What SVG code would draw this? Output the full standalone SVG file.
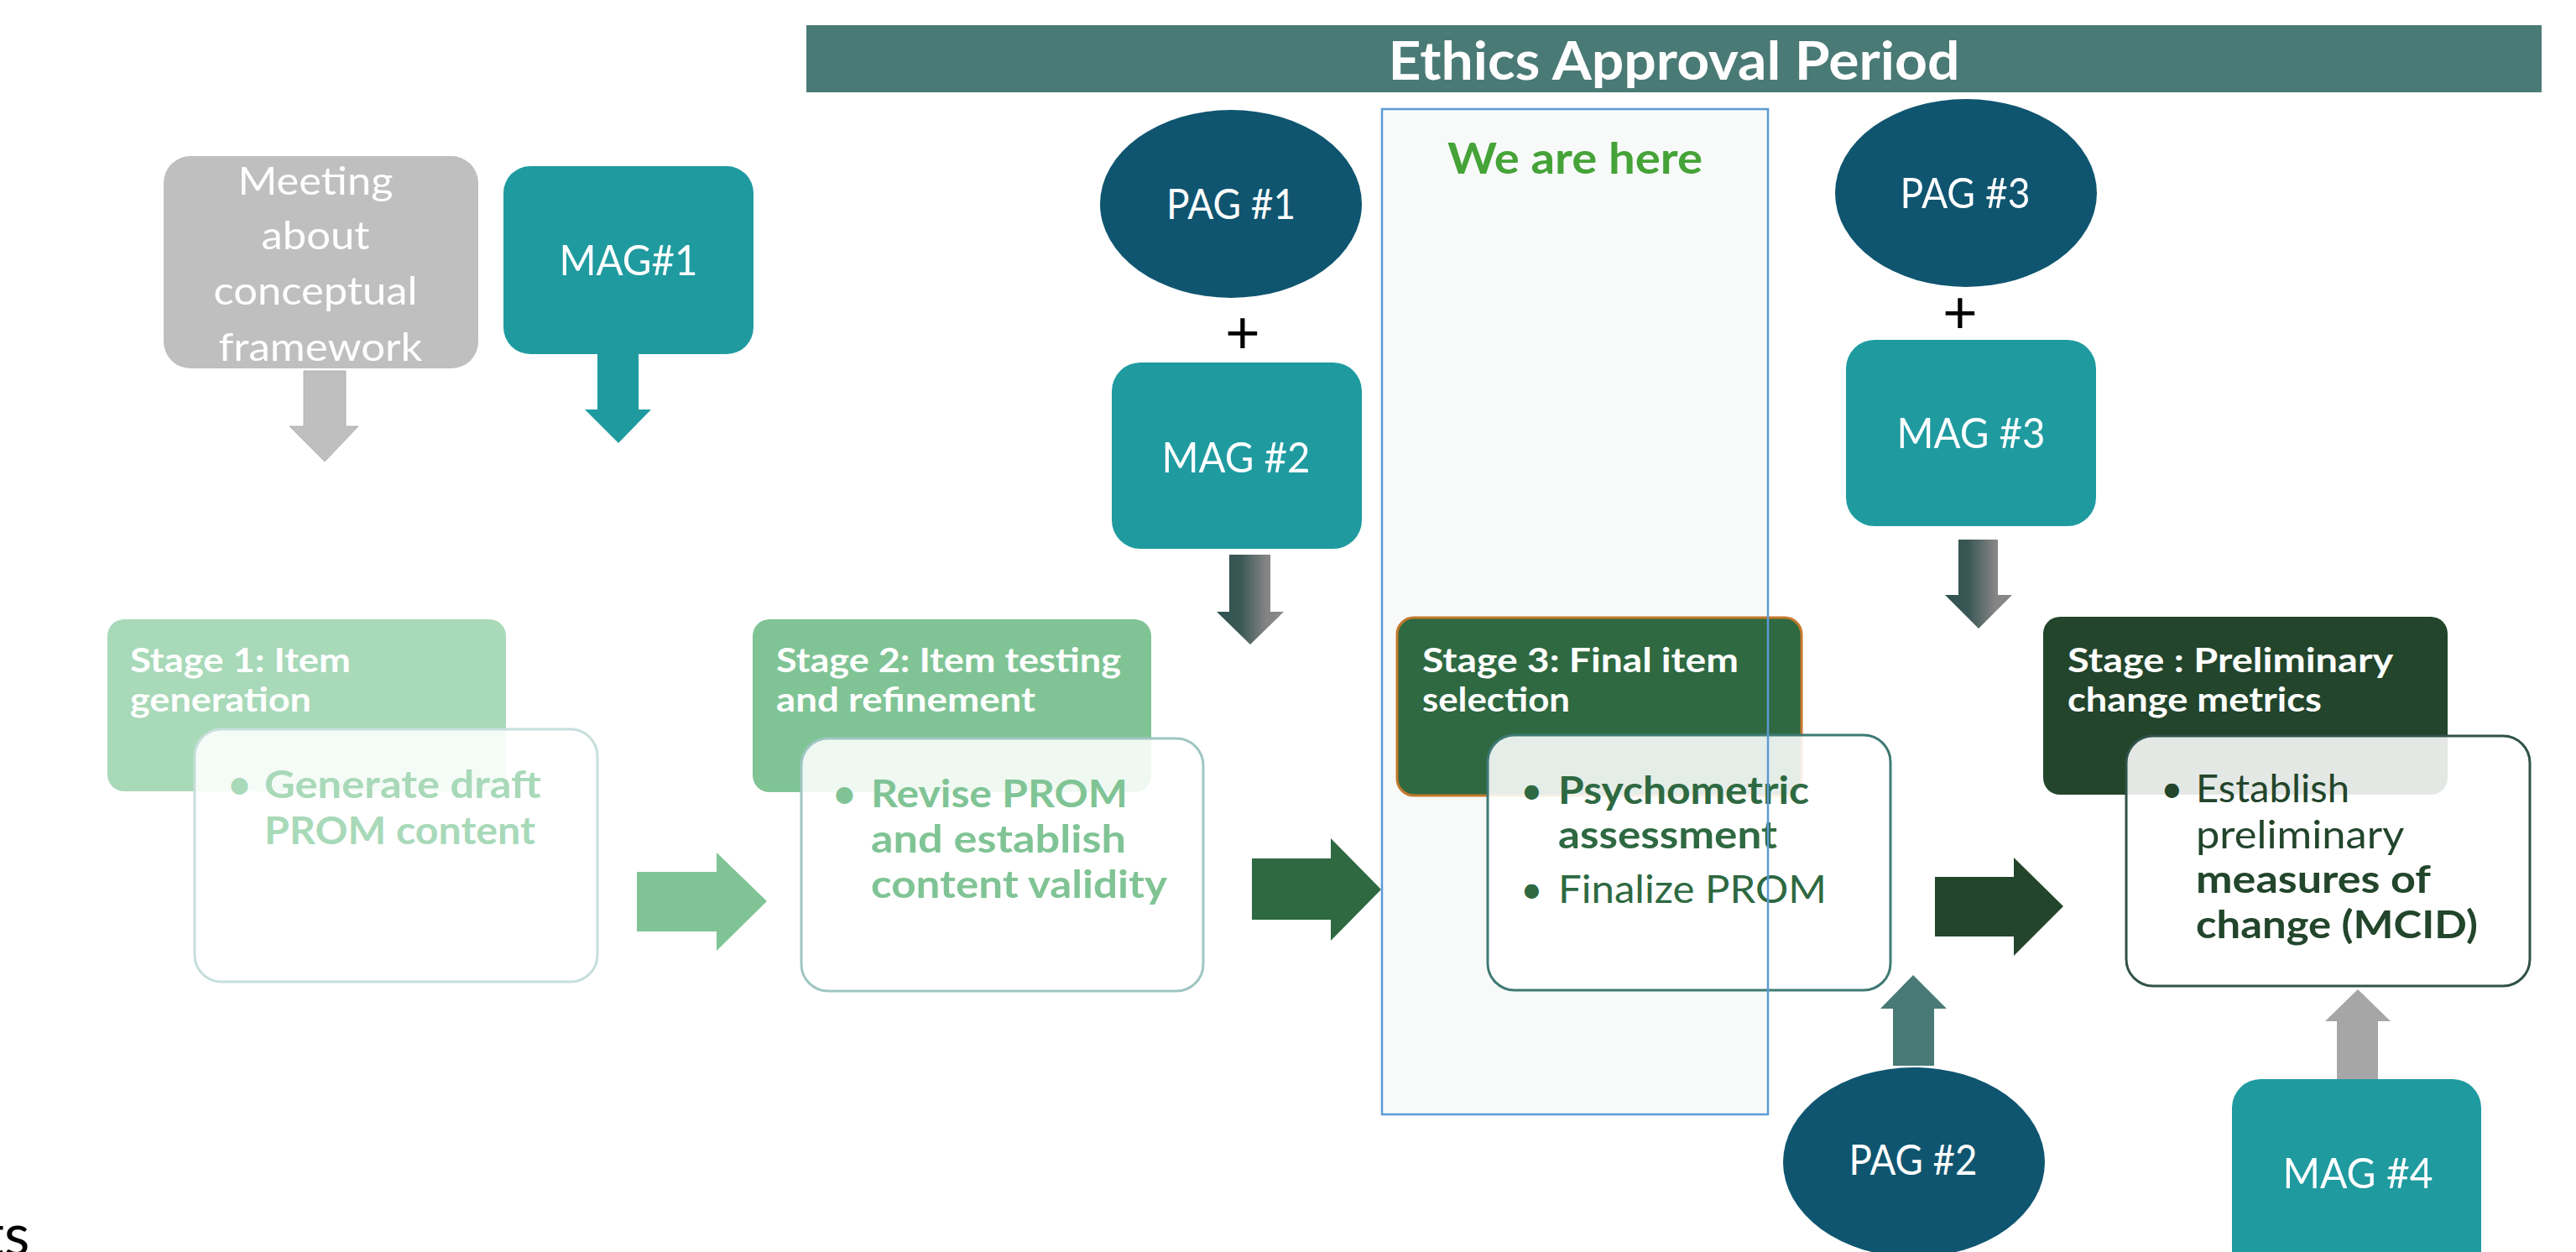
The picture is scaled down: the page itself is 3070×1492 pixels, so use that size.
<svg xmlns="http://www.w3.org/2000/svg" width="3070" height="1492" viewBox="0 0 3070 1492">
  <defs>
    <linearGradient id="slateGrad" x1="0" y1="0" x2="1" y2="0">
      <stop offset="0" stop-color="#2E514F"/>
      <stop offset="0.35" stop-color="#3A5856"/>
      <stop offset="0.75" stop-color="#858585"/>
      <stop offset="1" stop-color="#888888"/>
    </linearGradient>
  </defs>
  <style>
    .cal { font-family: Lato, "Open Sans", "Liberation Sans", sans-serif; fill: #ffffff; }
    .head { font-family: Lato, "Liberation Sans", sans-serif; font-weight: 700; font-size: 40px; fill: #ffffff; }
    .body { font-family: Lato, "Liberation Sans", sans-serif; font-size: 46px; }
    .b { font-weight: 700; }
    .card { fill: #ffffff; fill-opacity: 0.88; stroke-width: 3; }
    .mag { fill: #1F9BA0; }
    .pag { fill: #0F5570; }
  </style>

  <rect width="3070" height="1492" fill="#ffffff"/>

  <!-- highlight column (fill only; outline drawn last) -->
  <g id="we-are-here">
    <rect x="1647" y="130" width="460" height="1198" fill="#F8FAFA"/>
    <text x="1877" y="207" text-anchor="middle" textLength="304" lengthAdjust="spacingAndGlyphs" style="font-family: Lato, 'Liberation Sans', sans-serif; font-weight: 700; font-size: 52px; fill: #45A338;">We are here</text>
  </g>

  <!-- banner -->
  <g id="ethics-approval">
    <rect x="961" y="30" width="2068" height="80" fill="#4A7A75"/>
    <text x="1995" y="95" text-anchor="middle" textLength="681" lengthAdjust="spacingAndGlyphs" class="cal" style="font-weight: 700; font-size: 64px;">Ethics Approval Period</text>
  </g>

  <!-- advisory meetings -->
  <g id="meeting">
    <rect x="195" y="186" width="375" height="253" rx="32" fill="#BFBFBF"/>
    <text class="cal" text-anchor="middle" style="font-size: 47px;">
      <tspan x="382" y="232" textLength="185" lengthAdjust="spacingAndGlyphs">Meeting</tspan>
      <tspan x="382" y="297" textLength="129" lengthAdjust="spacingAndGlyphs">about</tspan>
      <tspan x="382" y="363" textLength="243" lengthAdjust="spacingAndGlyphs">conceptual</tspan>
      <tspan x="382" y="430" textLength="243" lengthAdjust="spacingAndGlyphs">framework</tspan>
    </text>
  </g>

  <g id="mag1">
    <rect class="mag" x="600" y="198" width="298" height="224" rx="32"/>
    <text class="cal" x="749" y="328" text-anchor="middle" textLength="165" lengthAdjust="spacingAndGlyphs" style="font-size: 50px;">MAG#1</text>
  </g>

  <g id="pag1">
    <ellipse class="pag" cx="1467" cy="243" rx="156" ry="112"/>
    <text class="cal" x="1467" y="261" text-anchor="middle" textLength="154" lengthAdjust="spacingAndGlyphs" style="font-size: 50px;">PAG #1</text>
  </g>

  <g id="plus1">
    <text x="1481" y="421" text-anchor="middle" style="font-family: Lato, 'Liberation Sans', sans-serif; font-size: 72px; fill: #000000;">+</text>
  </g>

  <g id="mag2">
    <rect class="mag" x="1325" y="432" width="298" height="222" rx="34"/>
    <text class="cal" x="1473" y="563" text-anchor="middle" textLength="177" lengthAdjust="spacingAndGlyphs" style="font-size: 50px;">MAG #2</text>
  </g>

  <g id="pag3">
    <ellipse class="pag" cx="2343" cy="230" rx="156" ry="112"/>
    <text class="cal" x="2342" y="248" text-anchor="middle" textLength="155" lengthAdjust="spacingAndGlyphs" style="font-size: 50px;">PAG #3</text>
  </g>

  <g id="plus3">
    <text x="2336" y="397" text-anchor="middle" style="font-family: Lato, 'Liberation Sans', sans-serif; font-size: 72px; fill: #000000;">+</text>
  </g>

  <g id="mag3">
    <rect class="mag" x="2200" y="405" width="298" height="222" rx="34"/>
    <text class="cal" x="2349" y="534" text-anchor="middle" textLength="177" lengthAdjust="spacingAndGlyphs" style="font-size: 50px;">MAG #3</text>
  </g>

  <g id="pag2">
    <ellipse class="pag" cx="2281" cy="1385" rx="156" ry="113"/>
    <text class="cal" x="2280" y="1400" text-anchor="middle" textLength="153" lengthAdjust="spacingAndGlyphs" style="font-size: 50px;">PAG #2</text>
  </g>

  <g id="mag4">
    <rect class="mag" x="2660" y="1286" width="297" height="240" rx="34"/>
    <text class="cal" x="2810" y="1416" text-anchor="middle" textLength="179" lengthAdjust="spacingAndGlyphs" style="font-size: 50px;">MAG #4</text>
  </g>

  <!-- stage 1 -->
  <g id="stage1">
    <rect x="128" y="738" width="475" height="205" rx="20" fill="#A8D9B8"/>
    <text class="head">
      <tspan x="155" y="801" textLength="263" lengthAdjust="spacingAndGlyphs">Stage 1: Item</tspan>
      <tspan x="155" y="848" textLength="216" lengthAdjust="spacingAndGlyphs">generation</tspan>
    </text>
    <rect class="card" x="232" y="869" width="480" height="301" rx="32" stroke="#C6DFDC"/>
    <text class="body b" fill="#A8D9B8">
      <tspan x="272" y="951">•</tspan>
      <tspan x="315" y="951" textLength="330" lengthAdjust="spacingAndGlyphs">Generate draft</tspan>
      <tspan x="315" y="1006" textLength="323" lengthAdjust="spacingAndGlyphs">PROM content</tspan>
    </text>
  </g>

  <!-- stage 2 -->
  <g id="stage2">
    <rect x="897" y="738" width="475" height="206" rx="20" fill="#80C495"/>
    <text class="head">
      <tspan x="925" y="801" textLength="411" lengthAdjust="spacingAndGlyphs">Stage 2: Item testing</tspan>
      <tspan x="925" y="848" textLength="309" lengthAdjust="spacingAndGlyphs">and refinement</tspan>
    </text>
    <rect class="card" x="955" y="880" width="479" height="301" rx="32" stroke="#9FC6C3"/>
    <text class="body b" fill="#80C495">
      <tspan x="993" y="962">•</tspan>
      <tspan x="1038" y="962" textLength="306" lengthAdjust="spacingAndGlyphs">Revise PROM</tspan>
      <tspan x="1038" y="1016" textLength="304" lengthAdjust="spacingAndGlyphs">and establish</tspan>
      <tspan x="1038" y="1070" textLength="353" lengthAdjust="spacingAndGlyphs">content validity</tspan>
    </text>
  </g>

  <!-- stage 3 -->
  <g id="stage3">
    <rect x="1665" y="736" width="482" height="212" rx="20" fill="#2E6941" stroke="#C4782C" stroke-width="3"/>
    <text class="head">
      <tspan x="1695" y="801" textLength="377" lengthAdjust="spacingAndGlyphs">Stage 3: Final item</tspan>
      <tspan x="1695" y="848" textLength="176" lengthAdjust="spacingAndGlyphs">selection</tspan>
    </text>
    <rect class="card" x="1773" y="876" width="480" height="304" rx="32" stroke="#3F7A75"/>
    <text class="body" fill="#2E6941">
      <tspan x="1812" y="958">•</tspan>
      <tspan x="1857" y="958" class="b" textLength="299" lengthAdjust="spacingAndGlyphs">Psychometric</tspan>
      <tspan x="1857" y="1011" class="b" textLength="261" lengthAdjust="spacingAndGlyphs">assessment</tspan>
      <tspan x="1812" y="1076">•</tspan>
      <tspan x="1857" y="1076" textLength="320" lengthAdjust="spacingAndGlyphs">Finalize PROM</tspan>
    </text>
  </g>

  <!-- stage 4 -->
  <g id="stage4">
    <rect x="2435" y="735" width="482" height="212" rx="20" fill="#22452B"/>
    <text class="head">
      <tspan x="2464" y="801" textLength="387" lengthAdjust="spacingAndGlyphs">Stage : Preliminary</tspan>
      <tspan x="2464" y="848" textLength="303" lengthAdjust="spacingAndGlyphs">change metrics</tspan>
    </text>
    <rect class="card" x="2534" y="877" width="481" height="298" rx="32" stroke="#2F524A"/>
    <text class="body" fill="#22452B">
      <tspan x="2575" y="956">•</tspan>
      <tspan x="2617" y="956" textLength="183" lengthAdjust="spacingAndGlyphs">Establish</tspan>
      <tspan x="2617" y="1011" textLength="247" lengthAdjust="spacingAndGlyphs">preliminary</tspan>
      <tspan x="2617" y="1064" class="b" textLength="280" lengthAdjust="spacingAndGlyphs">measures of</tspan>
      <tspan x="2617" y="1118" class="b" textLength="336" lengthAdjust="spacingAndGlyphs">change (MCID)</tspan>
    </text>
  </g>

  <!-- block arrows -->
  <g id="connectors">
    <polygon points="362,442 412,442 412,508 427,508 387,550 345,508 362,508" fill="#BFBFBF" stroke="#AEB4B8" stroke-width="1"/>
    <polygon points="712,422 761,422 761,488 776,488 737,528 697,488 712,488" fill="#1F9BA0"/>
    <polygon points="1465,661 1514,661 1514,729 1530,729 1490,768 1450,729 1465,729" fill="url(#slateGrad)"/>
    <polygon points="2334,643 2381,643 2381,709 2398,709 2358,749 2318,709 2334,709" fill="url(#slateGrad)"/>
    <polygon points="759,1039 854,1039 854,1016 914,1074 854,1133 854,1110 759,1110" fill="#80C495"/>
    <polygon points="1492,1023 1586,1023 1586,999 1646,1060 1586,1121 1586,1096 1492,1096" fill="#2E6941"/>
    <polygon points="2306,1045 2400,1045 2400,1022 2459,1080 2400,1139 2400,1116 2306,1116" fill="#22452B"/>
    <polygon points="2256,1270 2256,1202 2241,1202 2280,1162 2320,1202 2305,1202 2305,1270" fill="#4A7A75"/>
    <polygon points="2785,1286 2785,1217 2771,1217 2810,1179 2849,1217 2834,1217 2834,1286" fill="#A6A6A6"/>
  </g>

  <!-- outline of the highlight column, above the stage cards -->
  <rect id="we-are-here-outline" x="1647" y="130" width="460" height="1198" fill="none" stroke="#5B9BD5" stroke-width="2.5"/>

  <text x="-20" y="1496" style="font-family: Lato, 'Liberation Sans', sans-serif; font-size: 70px; fill: #000000;">ts</text>
</svg>
